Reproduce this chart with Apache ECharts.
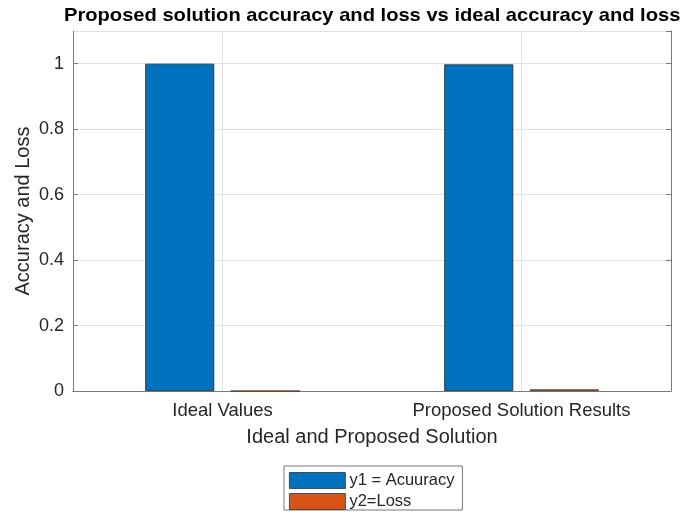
<!DOCTYPE html>
<html>
<head>
<meta charset="utf-8">
<script src="https://cdn.jsdelivr.net/npm/echarts@6/dist/echarts.min.js"></script>
<style>
  html, body { margin: 0; padding: 0; background: #fff; }
  #chart { width: 684px; height: 521px; }
</style>
</head>
<body>
<div id="chart"></div>
<script>
// Bar groups and their values
const categories = ['Ideal Values', 'Proposed Solution Results'];
const accuracy = [1, 0.998];
const loss = [0, 0.005];
const seriesNames = ['y1 = Acuuracy', 'y2=Loss'];
const yTicks = { min: 0, max: 1.1, interval: 0.2 };
const chartTitle = 'Proposed solution accuracy and loss vs ideal accuracy and loss';

const FONT = '"Liberation Sans", Arial, Helvetica, sans-serif';
const TEXT = '#262626';
const AXIS = '#7a7a7a';
const GRID = '#e2e2e2';

const chart = echarts.init(document.getElementById('chart'), null, { renderer: 'canvas' });

chart.setOption({
  animation: false,
  backgroundColor: '#fff',
  textStyle: { fontFamily: FONT },
  // bold heading, slightly stretched horizontally
  graphic: [{
    type: 'text', x: 64, y: 6, scaleX: 1.088, scaleY: 1,
    style: {
      text: chartTitle, fill: '#000',
      font: 'bold 18.5px ' + FONT,
      textAlign: 'left', textVerticalAlign: 'top'
    }
  }],
  grid: { left: 73, right: 13, top: 31, bottom: 130, containLabel: false },
  legend: {
    orient: 'vertical', left: 284, top: 466,
    padding: [6, 8, 0, 5], itemGap: 4, itemWidth: 56, itemHeight: 16,
    borderColor: '#777', borderWidth: 1, backgroundColor: '#fff',
    icon: 'rect',
    itemStyle: { borderColor: '#333', borderWidth: 0.8 },
    textStyle: { fontFamily: FONT, fontSize: 16.5, lineHeight: 16, color: TEXT, padding: [0, 0, 0, -1] },
    data: seriesNames
  },
  xAxis: [{
    type: 'category', data: categories, position: 'bottom',
    name: 'Ideal and Proposed Solution', nameLocation: 'middle', nameGap: 36,
    nameMoveOverlap: false,
    nameTextStyle: { fontFamily: FONT, fontSize: 20, color: TEXT },
    axisLine: { lineStyle: { color: AXIS, width: 1 } },
    axisTick: { inside: true, alignWithLabel: true, length: 5, lineStyle: { color: AXIS } },
    axisLabel: { fontFamily: FONT, fontSize: 18.5, color: TEXT, margin: 10 },
    splitLine: { show: false }
  }, {
    type: 'category', data: categories, position: 'top',
    axisLine: { lineStyle: { color: AXIS, width: 1 } },
    axisTick: { inside: true, alignWithLabel: true, length: 5, lineStyle: { color: AXIS } },
    axisLabel: { show: false },
    splitLine: { show: false }
  }],
  yAxis: [{
    type: 'value', position: 'left',
    min: yTicks.min, max: yTicks.max, interval: yTicks.interval,
    name: 'Accuracy and Loss', nameLocation: 'middle', nameGap: 40,
    nameMoveOverlap: false,
    nameTextStyle: { fontFamily: FONT, fontSize: 20, color: TEXT },
    axisLine: { show: true, lineStyle: { color: AXIS, width: 1 } },
    axisTick: { show: true, inside: true, length: 5, lineStyle: { color: AXIS } },
    axisLabel: { fontFamily: FONT, fontSize: 18, color: TEXT, margin: 9, showMaxLabel: false,
      formatter: v => (v > 1.0001 ? '' : String(Math.round(v * 10) / 10)) },
    splitLine: { show: true, lineStyle: { color: GRID, width: 1 } }
  }, {
    type: 'value', position: 'right',
    min: yTicks.min, max: yTicks.max, interval: yTicks.interval,
    axisLine: { show: true, lineStyle: { color: AXIS, width: 1 } },
    axisTick: { show: true, inside: true, length: 5, lineStyle: { color: AXIS } },
    axisLabel: { show: false },
    splitLine: { show: false }
  }],
  series: [{
    name: seriesNames[0], type: 'bar', xAxisIndex: 0, yAxisIndex: 0,
    data: accuracy, barWidth: 69, barGap: '24%',
    itemStyle: { color: '#0072BD', borderColor: '#222', borderWidth: 0.8 }
  }, {
    name: seriesNames[1], type: 'bar', xAxisIndex: 0, yAxisIndex: 0,
    data: loss, barWidth: 69,
    itemStyle: { color: '#D95319', borderColor: '#5a2a10', borderWidth: 0.8 }
  }, {
    // vertical grid lines through each category centre
    name: 'xgrid', type: 'line', data: [], z: 0,
    markLine: {
      silent: true, symbol: 'none', label: { show: false }, animation: false,
      lineStyle: { color: GRID, type: 'solid', width: 1 },
      data: categories.map(c => ({ xAxis: c }))
    }
  }]
});
</script>
</body>
</html>
